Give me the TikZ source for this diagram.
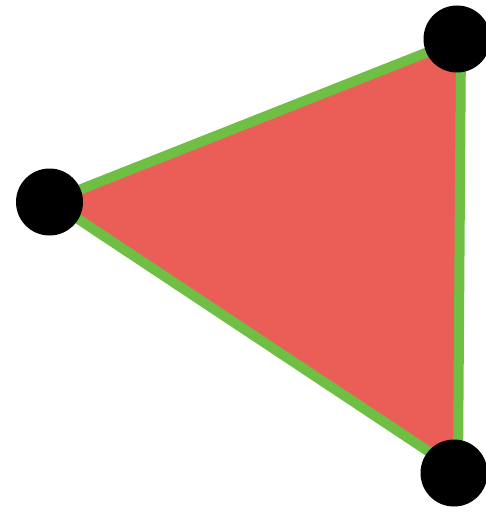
\documentclass[tikz,border=0pt]{standalone}
\definecolor{trired}{RGB}{235,94,87}
\definecolor{trigreen}{RGB}{112,191,69}
\begin{document}
\begin{tikzpicture}[x=1pt,y=-1pt,
  dot/.style={circle,fill=black,inner sep=0pt,minimum size=67pt},
  edge/.style={draw=trigreen,line width=10pt,line join=miter}]
\useasboundingbox (0,0) rectangle (486,513);
\coordinate (a) at (51,201);
\coordinate (b) at (461,39);
\coordinate (c) at (458,471);
\filldraw[edge,fill=trired] (a) -- (b) -- (c) -- cycle;
\node[dot] (na) at (49.5,202) {};
\node[dot] (nb) at (457,39) {};
\node[dot] (nc) at (454,473) {};
\end{tikzpicture}
\end{document}
